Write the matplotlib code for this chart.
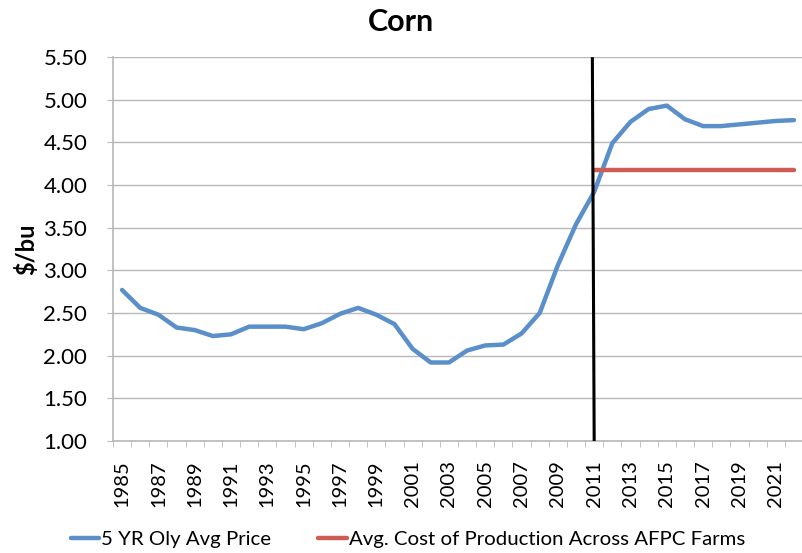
import numpy as np
import matplotlib
matplotlib.use("Agg")
import matplotlib.pyplot as plt

plt.rcParams["font.family"] = ["Lato", "DejaVu Sans"]

years = list(range(1985, 2023))
price = [2.77, 2.56, 2.48, 2.33, 2.30, 2.23, 2.25, 2.34, 2.34, 2.34,
         2.31, 2.38, 2.49, 2.56, 2.48, 2.37, 2.08, 1.92, 1.92, 2.06,
         2.12, 2.13, 2.26, 2.50, 3.06, 3.54, 3.92, 4.49, 4.74, 4.89,
         4.93, 4.77, 4.69, 4.69, 4.71, 4.73, 4.75, 4.76]
cost_years = list(range(2011, 2023))
cost = [4.18] * len(cost_years)
marker_year = 2011
y_ticks = [1.0, 1.5, 2.0, 2.5, 3.0, 3.5, 4.0, 4.5, 5.0, 5.5]

BLUE = "#5B8FC9"
RED = "#CD5C55"
GRID = "#B8B8B8"

fig = plt.figure(figsize=(8.03, 5.53), dpi=100)
ax = fig.add_axes([0.1407, 0.2025, 0.8593, 0.6945])

x = np.arange(len(years))
xc = np.array([years.index(y) for y in cost_years])
ax.plot(x, price, color=BLUE, lw=3.2, solid_joinstyle="round",
        solid_capstyle="round", label="5 YR Oly Avg Price", zorder=3)
ax.plot(xc, cost, color=RED, lw=3.2, solid_capstyle="round",
        label="Avg. Cost of Production Across AFPC Farms", zorder=3)

# vertical marker at the start of the projection period
xm = years.index(marker_year)
ax.plot([xm - 0.1, xm], [5.48, 1.0], color="black", lw=2.2, zorder=4)

ax.set_xlim(-0.5, len(years) - 0.5)
ax.set_ylim(1.0, 5.5)
ax.set_yticks(y_ticks)
ax.set_yticklabels([f"{v:.2f}" for v in y_ticks], fontsize=16)
ax.yaxis.grid(True, color=GRID, lw=1.0)
ax.set_axisbelow(True)

ax.set_xticks(x[::2])
ax.set_xticklabels([str(y) for y in years[::2]], rotation=90, fontsize=14.5)
ax.set_xticks(np.arange(-0.5, len(years), 1), minor=True)
ax.tick_params(axis="x", which="major", length=0, pad=14)
ax.tick_params(axis="x", which="minor", length=4.5, color=GRID, direction="out")
ax.tick_params(axis="y", length=4.5, color=GRID, pad=14)

for s in ["top", "right"]:
    ax.spines[s].set_visible(False)
ax.spines["left"].set_color(GRID)
ax.spines["bottom"].set_color(GRID)
ax.spines["left"].set_linewidth(1.2)
ax.spines["bottom"].set_linewidth(1.2)

ax.set_ylabel("$/bu", fontsize=17, fontweight="bold", labelpad=4)
fig.suptitle("Corn", fontsize=22, fontweight="bold", y=0.985)

fig.legend(loc="lower left", bbox_to_anchor=(0.065, -0.025), ncol=2,
           frameon=False, fontsize=14.7, handlelength=1.4, handletextpad=0.1,
           columnspacing=2.3)

fig.savefig("out.png", dpi=100)
